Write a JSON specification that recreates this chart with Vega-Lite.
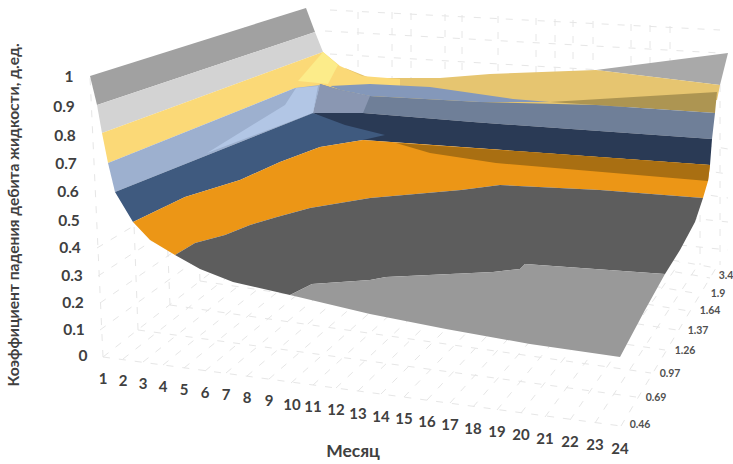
{"$schema":"https://vega.github.io/schema/vega-lite/v6.json","width":733,"height":464,"padding":0,"autosize":{"type":"none"},"background":"white","config":{"view":{"stroke":null}},
"datasets":{
"grid":[
{"a":103,"b":357,"c":310,"d":195},{"a":123,"b":359,"c":328,"d":198},{"a":143,"b":362,"c":345,"d":201},{"a":163,"b":365,"c":363,"d":205},{"a":184,"b":368,"c":381,"d":208},{"a":205,"b":371,"c":398,"d":211},{"a":226,"b":373,"c":416,"d":214},{"a":247,"b":376,"c":433,"d":217},{"a":269,"b":379,"c":451,"d":221},{"a":291,"b":383,"c":469,"d":224},{"a":313,"b":385,"c":486,"d":227},{"a":336,"b":388,"c":504,"d":230},{"a":358,"b":391,"c":521,"d":233},{"a":381,"b":394,"c":539,"d":236},{"a":404,"b":397,"c":557,"d":240},{"a":427,"b":400,"c":574,"d":243},{"a":450,"b":403,"c":592,"d":246},{"a":473,"b":407,"c":610,"d":249},{"a":497,"b":410,"c":627,"d":252},{"a":521,"b":413,"c":645,"d":256},{"a":545,"b":417,"c":662,"d":259},{"a":570,"b":420,"c":680,"d":262},{"a":595,"b":423,"c":698,"d":265},{"a":621,"b":426,"c":716,"d":268},
{"a":103,"b":357,"c":621,"d":426},{"a":138,"b":330,"c":636,"d":397},{"a":170,"b":305,"c":651,"d":373},{"a":200,"b":281,"c":665,"d":350},{"a":226,"b":260,"c":677,"d":330},{"a":252,"b":240,"c":689,"d":311},{"a":275,"b":222,"c":700,"d":294},{"a":297,"b":205,"c":710,"d":278},{"a":310,"b":195,"c":716,"d":268},
{"a":103,"b":357,"c":90,"d":76},{"a":138,"b":330,"c":128,"d":64},{"a":170,"b":305,"c":160,"d":54},{"a":200,"b":281,"c":190,"d":44},{"a":226,"b":260,"c":217,"d":36},{"a":252,"b":240,"c":245,"d":27},{"a":275,"b":222,"c":268,"d":19},{"a":297,"b":205,"c":292,"d":13},
{"a":100,"b":330,"c":310,"d":177},{"a":100,"b":303,"c":309,"d":158},{"a":98,"b":276,"c":309,"d":139},{"a":97,"b":248,"c":308,"d":121},
{"a":330,"b":10,"c":720,"d":30},{"a":325,"b":31,"c":720,"d":53},{"a":330,"b":54,"c":720,"d":77},
{"a":358,"b":12,"c":358,"d":90},{"a":392,"b":12,"c":392,"d":90},{"a":411,"b":13,"c":411,"d":90},{"a":445,"b":14,"c":445,"d":90},{"a":462,"b":15,"c":462,"d":90},{"a":498,"b":16,"c":498,"d":90},{"a":536,"b":18,"c":536,"d":90},{"a":555,"b":19,"c":555,"d":90},{"a":573,"b":20,"c":573,"d":90},{"a":593,"b":21,"c":593,"d":90},{"a":631,"b":24,"c":631,"d":90},{"a":650,"b":25,"c":650,"d":90},{"a":670,"b":26,"c":670,"d":90},
{"a":705,"b":145,"c":728,"d":149},{"a":700,"b":170,"c":728,"d":174},{"a":695,"b":193,"c":728,"d":198},{"a":690,"b":218,"c":728,"d":222},{"a":680,"b":245,"c":728,"d":250},{"a":720,"b":85,"c":720,"d":265},{"a":700,"b":215,"c":700,"d":265}
],
"surface":[
{"zone":"wall top","i":1,"x":90,"y":76},{"zone":"wall top","i":2,"x":306,"y":8},{"zone":"wall top","i":3,"x":315,"y":32},{"zone":"wall top","i":4,"x":97,"y":105},
{"zone":"wall pale","i":1,"x":97,"y":105},{"zone":"wall pale","i":2,"x":315,"y":32},{"zone":"wall pale","i":3,"x":323,"y":52},{"zone":"wall pale","i":4,"x":102,"y":133},
{"zone":"back grey","i":1,"x":596,"y":70},{"zone":"back grey","i":2,"x":728,"y":53},{"zone":"back grey","i":3,"x":720,"y":85},
{"zone":"back gold","i":1,"x":345,"y":68},{"zone":"back gold","i":2,"x":370,"y":78},{"zone":"back gold","i":3,"x":400,"y":78},{"zone":"back gold","i":4,"x":440,"y":78},{"zone":"back gold","i":5,"x":490,"y":74},{"zone":"back gold","i":6,"x":596,"y":70},{"zone":"back gold","i":7,"x":720,"y":85},{"zone":"back gold","i":8,"x":717,"y":100},{"zone":"back gold","i":9,"x":596,"y":110},{"zone":"back gold","i":10,"x":550,"y":112},{"zone":"back gold","i":11,"x":513,"y":110},{"zone":"back gold","i":12,"x":430,"y":105},{"zone":"back gold","i":13,"x":363,"y":95},
{"zone":"wall yellow","i":1,"x":102,"y":133},{"zone":"wall yellow","i":2,"x":323,"y":52},{"zone":"wall yellow","i":3,"x":340,"y":66},{"zone":"wall yellow","i":4,"x":362,"y":76},{"zone":"wall yellow","i":5,"x":400,"y":79},{"zone":"wall yellow","i":6,"x":400,"y":88},{"zone":"wall yellow","i":7,"x":345,"y":95},{"zone":"wall yellow","i":8,"x":320,"y":90},{"zone":"wall yellow","i":9,"x":295,"y":88},{"zone":"wall yellow","i":10,"x":108,"y":163},
{"zone":"yellow glow","i":1,"x":298,"y":81},{"zone":"yellow glow","i":2,"x":323,"y":52},{"zone":"yellow glow","i":3,"x":338,"y":65},{"zone":"yellow glow","i":4,"x":328,"y":84},
{"zone":"back dark gold","i":1,"x":550,"y":102},{"zone":"back dark gold","i":2,"x":717,"y":92},{"zone":"back dark gold","i":3,"x":715,"y":113},{"zone":"back dark gold","i":4,"x":596,"y":105},
{"zone":"back slate","i":1,"x":320,"y":84},{"zone":"back slate","i":2,"x":340,"y":90},{"zone":"back slate","i":3,"x":370,"y":96},{"zone":"back slate","i":4,"x":480,"y":102},{"zone":"back slate","i":5,"x":596,"y":105},{"zone":"back slate","i":6,"x":715,"y":113},{"zone":"back slate","i":7,"x":712,"y":139},{"zone":"back slate","i":8,"x":473,"y":122},{"zone":"back slate","i":9,"x":363,"y":113},{"zone":"back slate","i":10,"x":313,"y":113},
{"zone":"slate near ridge","i":1,"x":320,"y":84},{"zone":"slate near ridge","i":2,"x":340,"y":90},{"zone":"slate near ridge","i":3,"x":370,"y":96},{"zone":"slate near ridge","i":4,"x":363,"y":113},{"zone":"slate near ridge","i":5,"x":313,"y":113},
{"zone":"back blue","i":1,"x":330,"y":86},{"zone":"back blue","i":2,"x":370,"y":84},{"zone":"back blue","i":3,"x":430,"y":87},{"zone":"back blue","i":4,"x":513,"y":99},{"zone":"back blue","i":5,"x":550,"y":102},{"zone":"back blue","i":6,"x":480,"y":102},{"zone":"back blue","i":7,"x":370,"y":96},{"zone":"back blue","i":8,"x":340,"y":90},
{"zone":"back navy","i":1,"x":313,"y":113},{"zone":"back navy","i":2,"x":363,"y":113},{"zone":"back navy","i":3,"x":473,"y":122},{"zone":"back navy","i":4,"x":712,"y":139},{"zone":"back navy","i":5,"x":710,"y":165},{"zone":"back navy","i":6,"x":363,"y":140},
{"zone":"wall blue","i":1,"x":108,"y":163},{"zone":"wall blue","i":2,"x":295,"y":88},{"zone":"wall blue","i":3,"x":320,"y":85},{"zone":"wall blue","i":4,"x":313,"y":113},{"zone":"wall blue","i":5,"x":115,"y":192},
{"zone":"wall blue light","i":1,"x":207,"y":153},{"zone":"wall blue light","i":2,"x":285,"y":105},{"zone":"wall blue light","i":3,"x":296,"y":88},{"zone":"wall blue light","i":4,"x":318,"y":86},{"zone":"wall blue light","i":5,"x":313,"y":113},
{"zone":"wall navy","i":1,"x":115,"y":192},{"zone":"wall navy","i":2,"x":313,"y":113},{"zone":"wall navy","i":3,"x":345,"y":125},{"zone":"wall navy","i":4,"x":385,"y":135},{"zone":"wall navy","i":5,"x":363,"y":140},{"zone":"wall navy","i":6,"x":320,"y":147},{"zone":"wall navy","i":7,"x":280,"y":162},{"zone":"wall navy","i":8,"x":240,"y":180},{"zone":"wall navy","i":9,"x":185,"y":197},{"zone":"wall navy","i":10,"x":133,"y":222},
{"zone":"orange","i":1,"x":133,"y":222},{"zone":"orange","i":2,"x":185,"y":197},{"zone":"orange","i":3,"x":240,"y":180},{"zone":"orange","i":4,"x":280,"y":162},{"zone":"orange","i":5,"x":320,"y":147},{"zone":"orange","i":6,"x":363,"y":140},{"zone":"orange","i":7,"x":530,"y":152},{"zone":"orange","i":8,"x":710,"y":165},{"zone":"orange","i":9,"x":708,"y":181},{"zone":"orange","i":10,"x":703,"y":198},{"zone":"orange","i":11,"x":600,"y":190},{"zone":"orange","i":12,"x":500,"y":185},{"zone":"orange","i":13,"x":461,"y":190},{"zone":"orange","i":14,"x":370,"y":198},{"zone":"orange","i":15,"x":310,"y":208},{"zone":"orange","i":16,"x":277,"y":217},{"zone":"orange","i":17,"x":250,"y":225},{"zone":"orange","i":18,"x":225,"y":235},{"zone":"orange","i":19,"x":195,"y":243},{"zone":"orange","i":20,"x":175,"y":255},{"zone":"orange","i":21,"x":150,"y":240},
{"zone":"orange shade","i":1,"x":396,"y":143},{"zone":"orange shade","i":2,"x":530,"y":152},{"zone":"orange shade","i":3,"x":710,"y":165},{"zone":"orange shade","i":4,"x":708,"y":181},{"zone":"orange shade","i":5,"x":496,"y":163},{"zone":"orange shade","i":6,"x":430,"y":153},
{"zone":"dark grey","i":1,"x":175,"y":255},{"zone":"dark grey","i":2,"x":195,"y":243},{"zone":"dark grey","i":3,"x":225,"y":235},{"zone":"dark grey","i":4,"x":250,"y":225},{"zone":"dark grey","i":5,"x":277,"y":217},{"zone":"dark grey","i":6,"x":310,"y":208},{"zone":"dark grey","i":7,"x":370,"y":198},{"zone":"dark grey","i":8,"x":461,"y":190},{"zone":"dark grey","i":9,"x":500,"y":185},{"zone":"dark grey","i":10,"x":600,"y":190},{"zone":"dark grey","i":11,"x":703,"y":198},{"zone":"dark grey","i":12,"x":695,"y":222},{"zone":"dark grey","i":13,"x":680,"y":250},{"zone":"dark grey","i":14,"x":665,"y":274},{"zone":"dark grey","i":15,"x":525,"y":264},{"zone":"dark grey","i":16,"x":520,"y":269},{"zone":"dark grey","i":17,"x":493,"y":272},{"zone":"dark grey","i":18,"x":386,"y":277},{"zone":"dark grey","i":19,"x":370,"y":280},{"zone":"dark grey","i":20,"x":312,"y":284},{"zone":"dark grey","i":21,"x":290,"y":295},{"zone":"dark grey","i":22,"x":233,"y":282},{"zone":"dark grey","i":23,"x":200,"y":269},
{"zone":"light grey","i":1,"x":290,"y":295},{"zone":"light grey","i":2,"x":312,"y":284},{"zone":"light grey","i":3,"x":370,"y":280},{"zone":"light grey","i":4,"x":386,"y":277},{"zone":"light grey","i":5,"x":493,"y":272},{"zone":"light grey","i":6,"x":520,"y":269},{"zone":"light grey","i":7,"x":525,"y":264},{"zone":"light grey","i":8,"x":665,"y":274},{"zone":"light grey","i":9,"x":645,"y":310},{"zone":"light grey","i":10,"x":620,"y":357},{"zone":"light grey","i":11,"x":530,"y":344},{"zone":"light grey","i":12,"x":446,"y":329},{"zone":"light grey","i":13,"x":370,"y":314}
],
"months":[{"t":"1","x":103,"y":379},{"t":"2","x":123,"y":381},{"t":"3","x":143,"y":384},{"t":"4","x":163,"y":387},{"t":"5","x":184,"y":390},{"t":"6","x":205,"y":393},{"t":"7","x":226,"y":395},{"t":"8","x":247,"y":398},{"t":"9","x":269,"y":401},{"t":"10","x":292,"y":405},{"t":"11","x":313,"y":407},{"t":"12","x":336,"y":410},{"t":"13","x":358,"y":414},{"t":"14","x":381,"y":417},{"t":"15","x":404,"y":419},{"t":"16","x":427,"y":422},{"t":"17","x":450,"y":425},{"t":"18","x":473,"y":429},{"t":"19","x":497,"y":432},{"t":"20","x":521,"y":435},{"t":"21","x":545,"y":439},{"t":"22","x":570,"y":442},{"t":"23","x":595,"y":445},{"t":"24","x":620,"y":449}],
"levels":[{"t":"1","x":69,"y":77},{"t":"0.9","x":64,"y":107},{"t":"0.8","x":65,"y":136},{"t":"0.7","x":66,"y":164},{"t":"0.6","x":68,"y":192},{"t":"0.5","x":69,"y":221},{"t":"0.4","x":70,"y":248},{"t":"0.3","x":72,"y":276},{"t":"0.2","x":73,"y":303},{"t":"0.1","x":74,"y":330},{"t":"0","x":83,"y":356}],
"rates":[{"t":"0.46","x":640,"y":425},{"t":"0.69","x":656,"y":398},{"t":"0.97","x":670,"y":374},{"t":"1.26","x":685,"y":351},{"t":"1.37","x":698,"y":331},{"t":"1.64","x":710,"y":311},{"t":"1.9","x":718,"y":294},{"t":"3.4","x":726,"y":276}],
"titles":[{"t":"Месяц","x":353,"y":452}],
"ztitle":[{"t":"Коэффициент падения дебита жидкости, д.ед.","x":14,"y":215}]
},
"layer":[
{"data":{"name":"grid"},"mark":{"type":"rule","color":"#e6e6e6","strokeWidth":1,"strokeDash":[7,9]},
"encoding":{"x":{"field":"a","type":"quantitative","scale":{"domain":[0,733],"nice":false,"zero":false},"axis":null},"y":{"field":"b","type":"quantitative","scale":{"domain":[464,0],"nice":false,"zero":false},"axis":null},"x2":{"field":"c"},"y2":{"field":"d"}}},
{"data":{"name":"surface"},"mark":{"type":"line","filled":true,"strokeWidth":0,"interpolate":"linear-closed"},
"encoding":{"x":{"field":"x","type":"quantitative","scale":{"domain":[0,733],"nice":false,"zero":false},"axis":null},"y":{"field":"y","type":"quantitative","scale":{"domain":[464,0],"nice":false,"zero":false},"axis":null},"order":{"field":"i","type":"quantitative"},"detail":{"field":"zone"},
"color":{"field":"zone","type":"nominal","legend":null,"scale":{"domain":["wall top","wall pale","back grey","back gold","wall yellow","yellow glow","back dark gold","back slate","slate near ridge","back blue","back navy","wall blue","wall blue light","wall navy","orange","orange shade","dark grey","light grey"],"range":["#a1a1a1","#d3d3d3","#a9a9a9","#e6c570","#fbd977","#fcec8a","#ad9552","#6f7f98","#8a97b2","#8498ba","#2a3a55","#9db0cf","#b2c6e5","#3f5a7f","#ec9616","#a96f12","#5d5d5d","#999999"]}}}},
{"data":{"name":"months"},"mark":{"type":"text","font":"Lato","fontWeight":"bold","fontSize":15,"color":"#404040","align":"center","baseline":"middle"},
"encoding":{"x":{"field":"x","type":"quantitative","scale":{"domain":[0,733],"nice":false,"zero":false},"axis":null},"y":{"field":"y","type":"quantitative","scale":{"domain":[464,0],"nice":false,"zero":false},"axis":null},"text":{"field":"t"}}},
{"data":{"name":"levels"},"mark":{"type":"text","font":"Lato","fontWeight":"bold","fontSize":15.5,"color":"#404040","align":"center","baseline":"middle"},
"encoding":{"x":{"field":"x","type":"quantitative","scale":{"domain":[0,733],"nice":false,"zero":false},"axis":null},"y":{"field":"y","type":"quantitative","scale":{"domain":[464,0],"nice":false,"zero":false},"axis":null},"text":{"field":"t"}}},
{"data":{"name":"rates"},"mark":{"type":"text","font":"Lato","fontWeight":"bold","fontSize":10.5,"color":"#505050","align":"center","baseline":"middle"},
"encoding":{"x":{"field":"x","type":"quantitative","scale":{"domain":[0,733],"nice":false,"zero":false},"axis":null},"y":{"field":"y","type":"quantitative","scale":{"domain":[464,0],"nice":false,"zero":false},"axis":null},"text":{"field":"t"}}},
{"data":{"name":"titles"},"mark":{"type":"text","font":"Lato","fontWeight":"bold","fontSize":17.5,"color":"#404040","align":"center","baseline":"middle"},
"encoding":{"x":{"field":"x","type":"quantitative","scale":{"domain":[0,733],"nice":false,"zero":false},"axis":null},"y":{"field":"y","type":"quantitative","scale":{"domain":[464,0],"nice":false,"zero":false},"axis":null},"text":{"field":"t"}}},
{"data":{"name":"ztitle"},"mark":{"type":"text","font":"Lato","fontWeight":"bold","fontSize":15.6,"color":"#404040","align":"center","baseline":"middle","angle":270},
"encoding":{"x":{"field":"x","type":"quantitative","scale":{"domain":[0,733],"nice":false,"zero":false},"axis":null},"y":{"field":"y","type":"quantitative","scale":{"domain":[464,0],"nice":false,"zero":false},"axis":null},"text":{"field":"t"}}}
]}
